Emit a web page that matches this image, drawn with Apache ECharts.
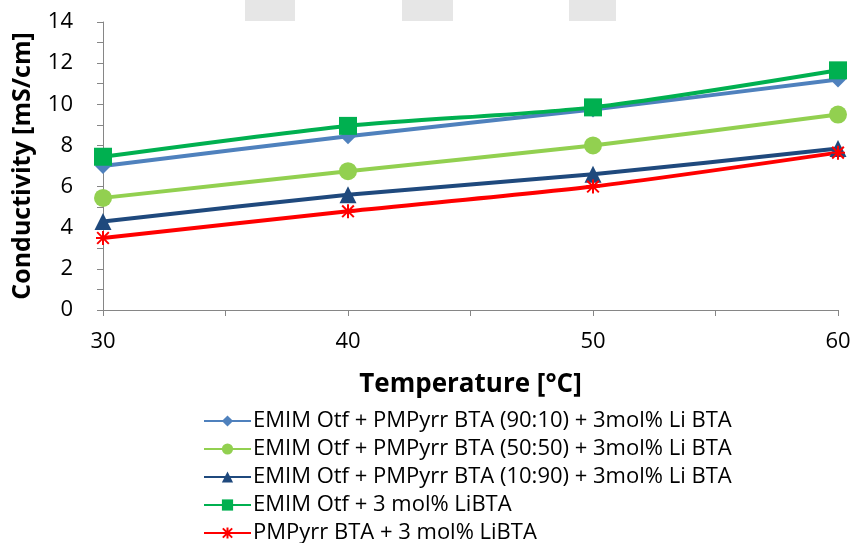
<!DOCTYPE html>
<html>
<head>
<meta charset="utf-8">
<script src="https://cdn.jsdelivr.net/npm/echarts@6/dist/echarts.min.js"></script>
<style>
  html, body { margin: 0; padding: 0; background: #ffffff; }
  #chart { width: 855px; height: 543px; }
</style>
</head>
<body>
<div id="chart"></div>
<script>
// Temperature points (°C)
const temperatures = [30, 40, 50, 60];

// Conductivity values (mS/cm) for each electrolyte
const emim9010 = [7.0, 8.45, 9.75, 11.2];
const emim5050 = [5.45, 6.75, 8.0, 9.5];
const emim1090 = [4.3, 5.6, 6.6, 7.85];
const emimLiBTA = [7.45, 8.95, 9.85, 11.65];
const pmpyrrLiBTA = [3.5, 4.8, 6.0, 7.65];

const seriesNames = [
  'EMIM Otf + PMPyrr BTA (90:10) + 3mol% Li BTA',
  'EMIM Otf + PMPyrr BTA (50:50) + 3mol% Li BTA',
  'EMIM Otf + PMPyrr BTA (10:90) + 3mol% Li BTA',
  'EMIM Otf + 3 mol% LiBTA',
  'PMPyrr BTA + 3 mol% LiBTA'
];

const yTicks = [0, 2, 4, 6, 8, 10, 12, 14];
const xTicks = [30, 40, 50, 60];

const FONT = '"Open Sans", sans-serif';
const asterisk = 'path://M0,0 L10,10 M10,0 L0,10 M5,-1 L5,11 M-1,5 L11,5';

function pairs(vals) {
  return temperatures.map((t, i) => [t, vals[i]]);
}

function makeSeries(name, vals, color, symbol, size, extra) {
  return Object.assign({
    name: name,
    type: 'line',
    data: pairs(vals),
    smooth: 0.25,
    symbol: symbol,
    symbolSize: size,
    lineStyle: { color: color, width: 4 },
    itemStyle: { color: color },
    z: 3
  }, extra || {});
}

const chart = echarts.init(document.getElementById('chart'), null, { renderer: 'canvas' });

chart.setOption({
  animation: false,
  backgroundColor: '#ffffff',
  grid: { left: 103, right: 17, top: 22, bottom: 233, containLabel: false, outerBoundsMode: 'none' },
  xAxis: {
    type: 'value',
    min: 30,
    max: 60,
    interval: 5,
    name: 'Temperature [°C]',
    nameLocation: 'middle',
    nameGap: 62,
    nameTextStyle: { fontFamily: FONT, fontSize: 26, fontWeight: 'bold', color: '#000' },
    axisLine: { lineStyle: { color: '#868686', width: 1 } },
    axisTick: { show: true, length: 6, inside: false, lineStyle: { color: '#868686' } },
    axisLabel: {
      fontFamily: FONT, fontSize: 22, color: '#000', margin: 21,
      formatter: v => (xTicks.indexOf(v) >= 0 ? String(v) : '')
    },
    splitLine: { show: false }
  },
  yAxis: {
    type: 'value',
    min: 0,
    max: 14,
    interval: 2,
    name: 'Conductivity [mS/cm]',
    nameLocation: 'middle',
    nameGap: 68,
    nameTextStyle: { fontFamily: FONT, fontSize: 25, fontWeight: 'bold', color: '#000' },
    axisLine: { show: true, lineStyle: { color: '#868686', width: 1 } },
    axisTick: { show: true, length: 6, lineStyle: { color: '#868686' } },
    minorTick: { show: true, splitNumber: 2, length: 6, lineStyle: { color: '#868686' } },
    axisLabel: {
      fontFamily: FONT, fontSize: 22, color: '#000', margin: 30,
      formatter: v => (yTicks.indexOf(v) >= 0 ? String(v) : '')
    },
    splitLine: { show: false }
  },
  legend: {
    orient: 'vertical',
    left: 203,
    top: 410,
    height: 200,
    padding: 0,
    itemWidth: 47,
    itemHeight: 14,
    itemGap: 6,
    textStyle: { fontFamily: FONT, fontSize: 22, lineHeight: 22, color: '#000', padding: [0, 0, 0, -3] },
    data: seriesNames
  },
  graphic: [
    { type: 'rect', shape: { x: 245, y: 0, width: 50, height: 21 }, style: { fill: '#e6e6e6' }, silent: true },
    { type: 'rect', shape: { x: 402, y: 0, width: 51, height: 21 }, style: { fill: '#e6e6e6' }, silent: true },
    { type: 'rect', shape: { x: 569, y: 0, width: 47, height: 21 }, style: { fill: '#e6e6e6' }, silent: true }
  ],
  series: [
    makeSeries(seriesNames[0], emim9010, '#4F81BD', 'diamond', 16),
    makeSeries(seriesNames[1], emim5050, '#92D050', 'circle', 18),
    makeSeries(seriesNames[2], emim1090, '#1F497D', 'triangle', 17),
    makeSeries(seriesNames[3], emimLiBTA, '#00B050', 'rect', 18),
    makeSeries(seriesNames[4], pmpyrrLiBTA, '#FF0000', asterisk, 14, {
      itemStyle: { color: 'none', borderColor: '#FF0000', borderWidth: 2 }
    })
  ]
});
</script>
</body>
</html>
